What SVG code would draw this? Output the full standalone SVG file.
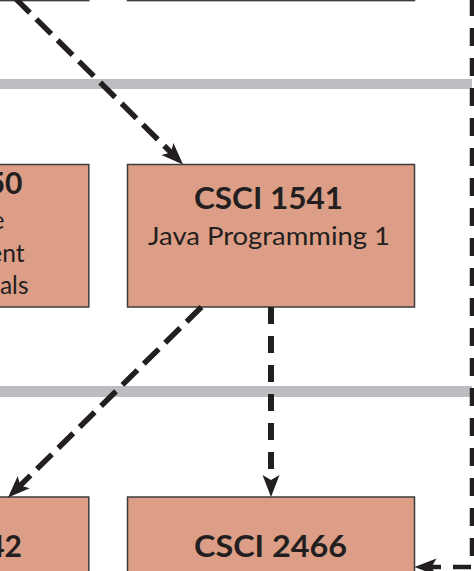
<svg xmlns="http://www.w3.org/2000/svg" width="474" height="571" viewBox="0 0 474 571">
<style>
.box{fill:#dc9e86;stroke:#3f3b3c;stroke-width:1.5}
.band{fill:#bcbdc0}
.t{font-family:Lato,"Noto Sans","DejaVu Sans",sans-serif;font-weight:700;font-size:30px;fill:#231f20}
.s{font-family:Lato,"Noto Sans","DejaVu Sans",sans-serif;font-size:24.5px;fill:#231f20}
.c{fill:none;stroke:#231f20;stroke-width:5.5;stroke-dasharray:18 11}
</style>
<defs>
<marker id="ah" markerUnits="userSpaceOnUse" viewBox="-10 -10 26 20" markerWidth="26" markerHeight="20" refX="0" refY="0" orient="auto">
<path d="M14,0 L-8,-8.5 L-3,0 L-8,8.5 Z" fill="#231f20" stroke="none"/>
</marker>
</defs>
<rect class="band" x="0" y="79" width="472" height="10"/>
<rect class="band" x="0" y="386" width="472" height="11"/>
<g id="node-top-left"><rect class="box" x="-10" y="-60" width="98.8" height="60.6"/></g>
<g id="node-top-right"><rect class="box" x="127.5" y="-60" width="287" height="60.6"/></g>
<g id="node-mid-left">
<rect class="box" x="-10" y="164.5" width="98.8" height="142.5"/>
<text class="t" x="22.5" y="194" text-anchor="end">50</text>
<text class="s" x="4.5" y="229" text-anchor="end">e</text>
<text class="s" x="24.5" y="262" text-anchor="end">ent</text>
<text class="s" x="28.5" y="294" text-anchor="end">als</text>
</g>
<g id="node-csci1541">
<rect class="box" x="127.5" y="164.5" width="287" height="142.5"/>
<text class="t" x="268.5" y="209" text-anchor="middle" textLength="149" lengthAdjust="spacingAndGlyphs">CSCI 1541</text>
<text class="s" x="269" y="245" text-anchor="middle" textLength="242" lengthAdjust="spacingAndGlyphs">Java Programming 1</text>
</g>
<g id="node-bottom-left">
<rect class="box" x="-10" y="497" width="98.8" height="100"/>
<text class="t" x="22" y="557" text-anchor="end">42</text>
</g>
<g id="node-csci2466">
<rect class="box" x="127.5" y="497" width="287" height="100"/>
<text class="t" x="270.5" y="557" text-anchor="middle" textLength="153" lengthAdjust="spacingAndGlyphs">CSCI 2466</text>
</g>
<g id="connectors">
<path class="c" d="M15,-2 L173.1,154.6" marker-end="url(#ah)" style="stroke-dasharray:21 9"/>
<path class="c" d="M201.5,307 L18,487.7" marker-end="url(#ah)" style="stroke-dasharray:21 9"/>
<path class="c" d="M271,307 L271,483" marker-end="url(#ah)" style="stroke-width:6;stroke-dasharray:17 12"/>
<path class="c" d="M472,-2 L472,567 L428.5,567" marker-end="url(#ah)" style="stroke-width:4.5;stroke-dasharray:18 12"/>
</g>
</svg>
